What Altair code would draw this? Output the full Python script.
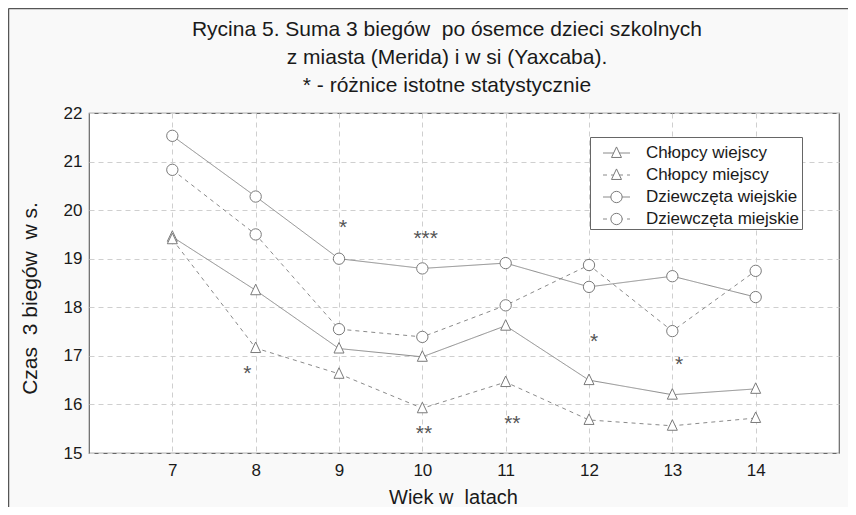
import altair as alt
import pandas as pd

# ---- data ----
ages = [7, 8, 9, 10, 11, 12, 13, 14]
series_names = ["Chłopcy wiejscy", "Chłopcy miejscy", "Dziewczęta wiejskie", "Dziewczęta miejskie"]
marker_keys = ["tri_solid", "tri_dash", "circ_solid", "circ_dash"]
boys_rural = [19.45, 18.35, 17.15, 16.98, 17.62, 16.50, 16.20, 16.32]
boys_urban = [19.40, 17.16, 16.63, 15.92, 16.46, 15.68, 15.56, 15.72]
girls_rural = [21.53, 20.28, 19.00, 18.80, 18.91, 18.42, 18.64, 18.21]
girls_urban = [20.83, 19.50, 17.55, 17.39, 18.04, 18.87, 17.51, 18.75]

star_x = [7.9, 9.05, 10.04, 10.02, 11.08, 12.06, 13.08]
star_y = [16.75, 19.75, 19.52, 15.51, 15.72, 17.41, 16.93]
star_text = ["*", "*", "***", "**", "**", "*", "*"]

x_ticks = [7, 8, 9, 10, 11, 12, 13, 14]
y_ticks = [15, 16, 17, 18, 19, 20, 21, 22]

title_lines = [
    "Rycina 5. Suma 3 biegów\u00a0 po ósemce dzieci szkolnych",
    "z miasta (Merida) i w si (Yaxcaba).",
    "* - różnice istotne statystycznie",
]

rows = []
for name, key, vals in zip(series_names, marker_keys,
                           [boys_rural, boys_urban, girls_rural, girls_urban]):
    for a, v in zip(ages, vals):
        rows.append({"age": a, "value": v, "series": name, "marker": key})
df = pd.DataFrame(rows)
stars = pd.DataFrame({"age": star_x, "value": star_y, "label": star_text})

FONT = "Liberation Sans"
LINE_COLOR = "#8a8a8a"
MARK_COLOR = "#7a7a7a"

x_enc = alt.X(
    "age:Q",
    scale=alt.Scale(domain=[6, 15], nice=False, zero=False),
    axis=alt.Axis(
        values=x_ticks, format="d", grid=True, gridDash=[5, 4], gridColor="#cfcfcf",
        domain=False, ticks=False, labelFontSize=17, labelFont=FONT, labelColor="#1a1a1a",
        labelPadding=9, title="Wiek w\u00a0 latach", titleFont=FONT, titleFontSize=20,
        titleFontWeight="normal", titleColor="#1a1a1a", titleX=364, titleY=44,
        titleBaseline="middle", titleAlign="center",
    ),
)
y_enc = alt.Y(
    "value:Q",
    scale=alt.Scale(domain=[15, 22], nice=False, zero=False),
    axis=alt.Axis(
        values=y_ticks, format="d", grid=True, gridDash=[5, 4], gridColor="#cfcfcf",
        domain=False, ticks=False, labelFontSize=17, labelFont=FONT, labelColor="#1a1a1a",
        labelPadding=7, title="Czas\u00a0 3 biegów\u00a0 w s.", titleFont=FONT, titleFontSize=21,
        titleFontWeight="normal", titleColor="#1a1a1a", titleX=-59, titleY=185,
        titleAngle=270, titleBaseline="middle", titleAlign="center",
    ),
)

# shared legend geometry (two legends are stacked exactly on top of each other:
# one gives the line samples + labels, the other the markers)
LEG = dict(
    title=None, orient="none", legendX=501, legendY=24, padding=2,
    symbolSize=729, symbolStrokeWidth=1, symbolOffset=10.5, labelOffset=15.5,
    labelFontSize=17, labelFont=FONT, rowPadding=-6.3, labelLimit=300,
)

base = alt.Chart(df)

lines = base.mark_line(color=LINE_COLOR, strokeWidth=1).encode(
    x=x_enc, y=y_enc,
    strokeDash=alt.StrokeDash(
        "series:N",
        scale=alt.Scale(domain=series_names, range=[[1, 0], [4, 4], [1, 0], [4, 4]]),
        legend=alt.Legend(
            fillColor="white", strokeColor="#666666", symbolStrokeColor=LINE_COLOR,
            labelColor="#1a1a1a", zindex=1, **LEG,
        ),
    ),
    detail="series:N",
)

# marker shapes (scaled by sqrt(size)/2 = 13.5 px per unit)
tri_small = "M0,-0.45L0.37,0.33L-0.37,0.33Z"
circ_small = ("M-0.42,0C-0.42,-0.232 -0.232,-0.42 0,-0.42C0.232,-0.42 0.42,-0.232 0.42,0"
              "C0.42,0.232 0.232,0.42 0,0.42C-0.232,0.42 -0.42,0.232 -0.42,0Z")

points = base.mark_point(
    size=729, filled=True, fill="white", stroke=MARK_COLOR, strokeWidth=1, opacity=1
).encode(
    x="age:Q", y="value:Q",
    shape=alt.Shape(
        "marker:N",
        scale=alt.Scale(domain=marker_keys,
                        range=[tri_small, tri_small, circ_small, circ_small]),
        legend=alt.Legend(
            fillColor="transparent", strokeColor="transparent",
            labelExpr="''", labelColor="transparent", zindex=2, **LEG,
        ),
    ),
)

star_layer = alt.Chart(stars).mark_text(
    font=FONT, fontSize=21, color="#555555", baseline="alphabetic", align="center", dy=12
).encode(x="age:Q", y="value:Q", text="label:N")

frame_df = pd.DataFrame({"k": [0]})
frame_left = alt.Chart(frame_df).mark_rule(color="#555555", strokeWidth=1.5).encode(
    x=alt.value(-80.5), y=alt.value(-104.5), y2=alt.value(400)
)
frame_top = alt.Chart(frame_df).mark_rule(color="#555555", strokeWidth=1.5).encode(
    x=alt.value(-80.5), x2=alt.value(770), y=alt.value(-104.5)
)

chart = alt.layer(
    lines, points, star_layer, frame_left, frame_top
).properties(
    width=750, height=340,
    padding={"left": 81, "top": 105, "right": 9, "bottom": 54},
    autosize=alt.AutoSizeParams(type="none"),
    title=alt.TitleParams(
        text=title_lines, font=FONT, fontSize=21, fontWeight="normal", color="#1a1a1a",
        lineHeight=28, anchor="middle", frame="group", dx=-17, offset=-88,
    ),
).configure(background="#f9f9f9").configure_view(
    fill="white", stroke="#666666", strokeWidth=1.2
)

chart.save("out.html", embed_options={"renderer": "svg", "actions": False})
